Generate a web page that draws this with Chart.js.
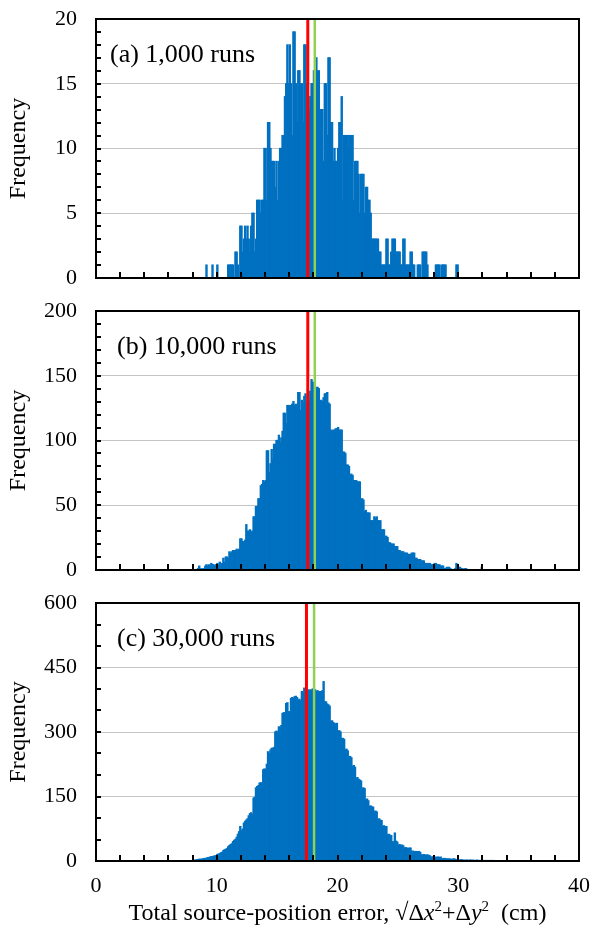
<!DOCTYPE html>
<html>
<head>
<meta charset="utf-8">
<script src="https://cdn.jsdelivr.net/npm/chart.js@4.4.0/dist/chart.umd.min.js"></script>
<style>
  html, body { margin: 0; padding: 0; background: #fff; }
  #wrap { position: relative; width: 591px; height: 934px; }
  canvas { position: absolute; left: 0; }
  #xTitle {
    position: absolute; left: 96px; width: 483px; top: 899px; text-align: center;
    font-family: 'Liberation Serif', 'Times New Roman', serif; font-size: 24px; color: #000;
    white-space: nowrap;
  }
  #xTitle sup { font-size: 15px; vertical-align: 9px; line-height: 0; }
</style>
</head>
<body>
<div id="wrap">
  <canvas id="chartA" width="591" height="292" style="top:0"></canvas>
  <canvas id="chartB" width="591" height="292" style="top:292px"></canvas>
  <canvas id="chartC" width="591" height="350" style="top:584px"></canvas>
  <div id="xTitle">Total source-position error, √Δ<i>x</i><sup>2</sup>+Δ<i>y</i><sup>2</sup>&nbsp; (cm)</div>
</div>
<script>
// histogram bins: 0.1 cm wide, first bin starts at 8.0 cm
const binStart = 8.0;
const binWidth = 0.1;

// (a) 1,000 runs
const counts1k = [
  0, 0, 0, 0, 0, 0, 0, 0, 0, 0,
  0, 1, 0, 0, 0, 0, 1, 0, 0, 0,
  1, 0, 0, 0, 0, 0, 0, 0, 0, 1,
  1, 1, 1, 1, 0, 2, 2, 1, 0, 4,
  4, 2, 3, 4, 3, 4, 3, 2, 4, 5,
  5, 2, 3, 6, 6, 6, 5, 6, 6, 10,
  10, 6, 12, 12, 10, 9, 9, 9, 7, 9,
  6, 9, 10, 10, 11, 11, 14, 15, 18, 15,
  18, 15, 11, 19, 19, 15, 12, 16, 16, 15,
  15, 12, 18, 18, 15, 15, 13, 14, 15, 15,
  16, 15, 17, 16, 16, 13, 13, 13, 9, 15,
  15, 11, 17, 17, 12, 12, 9, 10, 9, 9,
  10, 12, 12, 14, 6, 11, 11, 11, 11, 10,
  11, 11, 11, 6, 9, 9, 9, 8, 5, 8,
  8, 8, 5, 7, 7, 6, 6, 5, 3, 3,
  3, 3, 3, 3, 2, 2, 1, 1, 1, 1,
  3, 3, 1, 1, 2, 3, 3, 3, 2, 2,
  2, 2, 1, 1, 3, 3, 1, 1, 1, 1,
  2, 2, 1, 1, 0, 0, 1, 1, 1, 0,
  2, 2, 2, 2, 1, 0, 0, 0, 0, 0,
  0, 1, 1, 1, 1, 0, 1, 1, 1, 1,
  0, 0, 0, 0, 0, 0, 0, 0, 1, 1
];

// (b) 10,000 runs
const counts10k = [
  0, 0, 0, 0, 1, 3, 1, 0, 1, 0,
  3, 4, 3, 4, 3, 5, 4, 4, 3, 4,
  5, 4, 6, 5, 5, 9, 6, 10, 10, 9,
  14, 13, 14, 15, 15, 15, 16, 15, 16, 24,
  24, 22, 21, 23, 35, 30, 30, 31, 29, 30,
  41, 41, 49, 49, 55, 55, 65, 66, 69, 68,
  69, 92, 92, 75, 82, 93, 85, 97, 97, 100,
  100, 104, 98, 102, 107, 121, 121, 113, 127, 127,
  127, 126, 128, 130, 127, 128, 126, 137, 137, 123,
  131, 129, 134, 136, 130, 128, 131, 138, 147, 145,
  143, 140, 141, 141, 140, 126, 131, 130, 133, 136,
  136, 137, 129, 128, 108, 107, 108, 108, 109, 109,
  110, 108, 108, 108, 91, 91, 90, 81, 81, 80,
  73, 74, 73, 69, 69, 69, 68, 68, 68, 54,
  55, 54, 45, 46, 44, 44, 44, 38, 38, 38,
  41, 40, 41, 38, 38, 38, 31, 31, 31, 26,
  26, 25, 21, 21, 20, 20, 20, 18, 18, 18,
  15, 15, 14, 14, 14, 13, 13, 13, 12, 12,
  12, 13, 13, 13, 9, 9, 8, 8, 8, 7,
  7, 7, 5, 5, 5, 5, 5, 4, 4, 4,
  5, 5, 4, 4, 4, 3, 3, 3, 1, 1,
  2, 2, 2, 1, 0, 0, 0, 1, 5, 2,
  2, 2, 1, 1, 0, 1, 1, 0, 0, 0,
  0, 0, 0, 0, 0, 0, 0, 0, 0, 2
];

// (c) 30,000 runs
const counts30k = [
  1, 2, 2, 3, 3, 4, 4, 4, 5, 5,
  6, 6, 8, 8, 9, 10, 10, 11, 12, 12,
  15, 16, 17, 19, 20, 24, 26, 27, 29, 33,
  36, 38, 40, 45, 48, 50, 55, 62, 68, 80,
  70, 74, 88, 92, 95, 98, 105, 110, 112, 108,
  146, 148, 170, 173, 175, 181, 182, 180, 212, 214,
  213, 225, 254, 250, 258, 262, 262, 264, 300, 302,
  300, 312, 310, 315, 343, 345, 342, 366, 368, 347,
  347, 378, 380, 378, 382, 383, 380, 374, 376, 372,
  394, 390, 402, 398, 400, 398, 396, 398, 397, 400,
  395, 398, 394, 396, 392, 394, 394, 396, 417, 370,
  370, 365, 363, 360, 324, 326, 322, 320, 318, 320,
  301, 303, 300, 285, 285, 283, 258, 260, 256, 243,
  243, 240, 220, 222, 218, 192, 194, 190, 188, 186,
  169, 170, 168, 142, 144, 140, 127, 128, 126, 125,
  115, 116, 114, 96, 98, 95, 94, 80, 82, 79,
  80, 61, 62, 60, 59, 45, 44, 65, 46, 44,
  37, 38, 36, 37, 35, 30, 31, 30, 29, 30,
  30, 22, 23, 21, 22, 22, 21, 22, 20, 14,
  14, 15, 13, 14, 14, 13, 12, 9, 9, 10,
  9, 8, 9, 9, 8, 9, 5, 5, 6, 5,
  5, 4, 5, 4, 4, 4, 5, 4, 3, 2,
  2, 2, 3, 2, 2, 1, 2, 2, 1, 2,
  2, 1, 2, 1, 1, 2, 1, 1, 1, 1,
  1, 1, 0, 1, 0, 1, 0, 1, 1, 0
];

const panelLabels = ['(a) 1,000 runs', '(b) 10,000 runs', '(c) 30,000 runs'];
const yMaxes = [20, 200, 600];
const yMajorSteps = [5, 50, 150];
const yMinorSteps = [1, 10, 50];
const xTickValues = [0, 10, 20, 30, 40];
const redLines = [17.54, 17.54, 17.43];
const greenLines = [18.12, 18.12, 18.06];

const serif = "'Liberation Serif', 'Times New Roman', serif";

// frame, inside tick marks and the panel label
const panelDecor = {
  id: 'panelDecor',
  afterDraw(chart, args, opts) {
    const { ctx, chartArea: a, scales: { x, y } } = chart;
    ctx.save();
    ctx.strokeStyle = '#000';
    ctx.lineWidth = 2;
    ctx.beginPath();
    for (let k = 0; k * opts.minorY <= y.max; k++) {
      const py = Math.round(y.getPixelForValue(k * opts.minorY));
      ctx.moveTo(a.left, py);
      ctx.lineTo(a.left + 5, py);
    }
    for (let k = 0; k * 2 <= x.max; k++) {
      const px = Math.round(x.getPixelForValue(k * 2));
      ctx.moveTo(px, a.bottom);
      ctx.lineTo(px, a.bottom - 6);
    }
    ctx.stroke();
    ctx.strokeRect(a.left, a.top, a.width, a.height);
    ctx.fillStyle = '#000';
    ctx.font = '26px ' + serif;
    ctx.textBaseline = 'middle';
    ctx.fillText(opts.label, a.left + opts.labelDx, a.top + 36);
    ctx.restore();
  }
};

function makePanel(id, idx, counts, showX) {
  const bars = counts.map((c, i) => ({ x: binStart + binWidth * (i + 0.5), y: c }));
  const yMax = yMaxes[idx];
  new Chart(document.getElementById(id), {
    type: 'bar',
    data: {
      datasets: [
        { type: 'line', data: [{ x: redLines[idx], y: 0 }, { x: redLines[idx], y: yMax }],
          borderColor: '#ff0000', borderWidth: 3, pointRadius: 0, order: 0 },
        { type: 'line', data: [{ x: greenLines[idx], y: 0 }, { x: greenLines[idx], y: yMax }],
          borderColor: '#92d050', borderWidth: 2.5, pointRadius: 0, order: 0 },
        { data: bars, backgroundColor: '#0070c0', borderWidth: 0, inflateAmount: 0.6,
          barPercentage: 1, categoryPercentage: 1, order: 1 }
      ]
    },
    options: {
      responsive: false,
      animation: false,
      layout: { autoPadding: false, padding: { top: 19, right: 12, bottom: showX ? 33 : 14, left: 0 } },
      plugins: {
        legend: { display: false },
        tooltip: { enabled: false },
        panelDecor: { minorY: yMinorSteps[idx], label: panelLabels[idx], labelDx: idx === 0 ? 14 : 21 }
      },
      scales: {
        x: {
          type: 'linear', min: 0, max: 40, offset: false,
          afterBuildTicks(s) { s.ticks = xTickValues.map(v => ({ value: v })); },
          afterFit(s) {
            if (showX) s.height = 40;
            s.paddingLeft = 0; s.paddingRight = 0;
          },
          ticks: { display: showX, padding: 12, color: '#000', maxRotation: 0, font: { family: serif, size: 22 } },
          grid: { display: false, drawTicks: false },
          border: { display: false }
        },
        y: {
          min: 0, max: yMax,
          afterFit(s) {
            s.width = 96;
            s.paddingTop = 0; s.paddingBottom = 0;
          },
          ticks: { stepSize: yMajorSteps[idx], padding: 19, color: '#000', font: { family: serif, size: 22 } },
          grid: { color: '#c4c4c4', lineWidth: 1, drawTicks: false },
          border: { display: false },
          title: { display: true, text: 'Frequency', color: '#000', font: { family: serif, size: 24 }, padding: { top: 4, bottom: 0 } }
        }
      }
    },
    plugins: [panelDecor]
  });
}

makePanel('chartA', 0, counts1k, false);
makePanel('chartB', 1, counts10k, false);
makePanel('chartC', 2, counts30k, true);
</script>
</body>
</html>
